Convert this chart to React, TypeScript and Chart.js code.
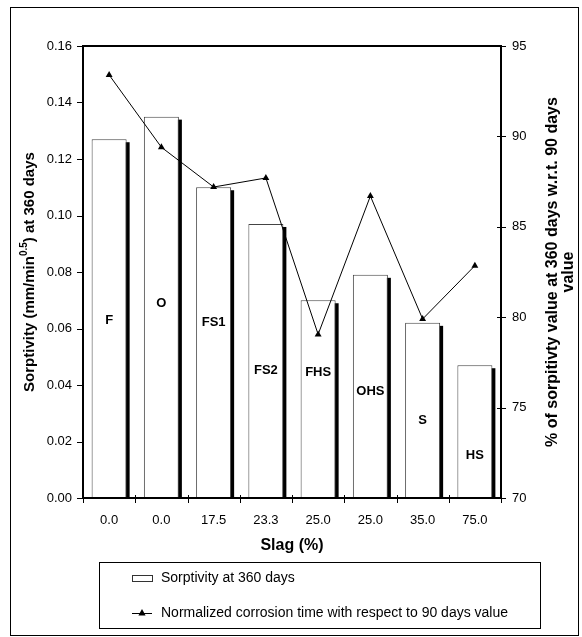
import React, { useEffect, useRef } from "react";
import { Chart, registerables } from "chart.js";

Chart.register(...registerables);

// ---- data ----
const slagCategories = ["0.0", "0.0", "17.5", "23.3", "25.0", "25.0", "35.0", "75.0"];
const mixNames = ["F", "O", "FS1", "FS2", "FHS", "OHS", "S", "HS"];
const sorptivity360 = [0.127, 0.135, 0.11, 0.097, 0.07, 0.079, 0.062, 0.047];
const normalizedPercent = [93.4, 89.4, 87.2, 87.7, 79.05, 86.7, 79.9, 82.85];
// heights (in sorptivity units) at which the mix names are written
const mixNameHeights = [0.0627, 0.069, 0.0623, 0.045, 0.0446, 0.0379, 0.0273, 0.0149];
const leftTickValues = [0, 0.02, 0.04, 0.06, 0.08, 0.1, 0.12, 0.14, 0.16];
const rightTickValues = [70, 75, 80, 85, 90, 95];

const barLegend = "Sorptivity at 360 days";
const lineLegend = "Normalized corrosion time with respect to 90 days value";
const xTitle = "Slag (%)";
const rightTitle1 = "% of sorpitivty value at 360 days w.r.t. 90 days";
const rightTitle2 = "value";

const FONT = "'Liberation Sans', Arial, Helvetica, sans-serif";
const W = 582;
const H = 637;

function drawTriangle(ctx: CanvasRenderingContext2D, x: number, y: number, r: number) {
  ctx.beginPath();
  ctx.moveTo(x, y - r);
  ctx.lineTo(x + r * 0.9, y + r * 0.6);
  ctx.lineTo(x - r * 0.9, y + r * 0.6);
  ctx.closePath();
  ctx.fill();
}

const decorPlugin = {
  id: "decor",
  beforeDatasetsDraw(chart: any) {
    const ctx = chart.ctx as CanvasRenderingContext2D;
    const meta = chart.getDatasetMeta(0);
    ctx.save();
    ctx.fillStyle = "#000";
    meta.data.forEach((bar: any) => {
      const p = bar.getProps(["x", "y", "base", "width"], true);
      const left = p.x - p.width / 2 + 3;
      ctx.fillRect(left, p.y + 3, p.width, p.base - p.y - 3);
    });
    ctx.restore();
  },
  afterDatasetsDraw(chart: any) {
    const ctx = chart.ctx as CanvasRenderingContext2D;
    const { left, right, top, bottom } = chart.chartArea;
    const xs = chart.scales.x;
    const ys = chart.scales.y;
    const y1 = chart.scales.y1;
    ctx.save();
    // mix names
    ctx.fillStyle = "#000";
    ctx.font = `bold 13px ${FONT}`;
    ctx.textAlign = "center";
    ctx.textBaseline = "middle";
    mixNames.forEach((n, i) => {
      ctx.fillText(n, xs.getPixelForValue(i), ys.getPixelForValue(mixNameHeights[i]));
    });
    // frame
    ctx.strokeStyle = "#000";
    ctx.lineWidth = 2;
    ctx.strokeRect(left, top, right - left, bottom - top);
    ctx.lineWidth = 1;
    ctx.beginPath();
    leftTickValues.forEach((v) => {
      const y = Math.round(ys.getPixelForValue(v)) + 0.5;
      ctx.moveTo(left - 6, y);
      ctx.lineTo(left, y);
    });
    rightTickValues.forEach((v) => {
      const y = Math.round(y1.getPixelForValue(v)) + 0.5;
      ctx.moveTo(right - 4, y);
      ctx.lineTo(right + 5, y);
    });
    for (let i = 0; i <= slagCategories.length; i++) {
      const x = Math.round(xs.getPixelForValue(i - 0.5)) + 0.5;
      ctx.moveTo(x, bottom - 3);
      ctx.lineTo(x, bottom + 5);
    }
    ctx.stroke();
    ctx.restore();
  },
  afterDraw(chart: any) {
    const ctx = chart.ctx as CanvasRenderingContext2D;
    const { top, bottom, left, right } = chart.chartArea;
    const midY = (top + bottom) / 2;
    ctx.save();
    ctx.fillStyle = "#000";
    ctx.strokeStyle = "#000";

    // left title with superscript
    ctx.save();
    ctx.translate(30, midY);
    ctx.rotate(-Math.PI / 2);
    ctx.textBaseline = "middle";
    ctx.textAlign = "left";
    const bigFont = `bold 15px ${FONT}`;
    const supFont = `bold 10px ${FONT}`;
    const p1 = "Sorptivity (mm/min";
    const sup = "0.5";
    const p2 = ") at 360 days";
    ctx.font = bigFont;
    const w1 = ctx.measureText(p1).width;
    const w3 = ctx.measureText(p2).width;
    ctx.font = supFont;
    const w2 = ctx.measureText(sup).width;
    let x = -(w1 + w2 + w3) / 2;
    ctx.font = bigFont;
    ctx.fillText(p1, x, 0);
    x += w1;
    ctx.font = supFont;
    ctx.fillText(sup, x, -6);
    x += w2;
    ctx.font = bigFont;
    ctx.fillText(p2, x, 0);
    ctx.restore();

    // right title
    ctx.save();
    ctx.font = `bold 16px ${FONT}`;
    ctx.textAlign = "center";
    ctx.textBaseline = "middle";
    ctx.translate(553, midY);
    ctx.rotate(-Math.PI / 2);
    ctx.fillText(rightTitle1, 0, 0);
    ctx.fillText(rightTitle2, 0, 16);
    ctx.restore();

    // x title
    ctx.font = `bold 16px ${FONT}`;
    ctx.textAlign = "center";
    ctx.textBaseline = "middle";
    ctx.fillText(xTitle, (left + right) / 2, 546);

    // legend box
    ctx.lineWidth = 1;
    ctx.strokeRect(99.5, 562.5, 441, 66);
    ctx.strokeStyle = "#333";
    ctx.strokeRect(132.5, 575.5, 20, 6);
    ctx.strokeStyle = "#000";
    ctx.beginPath();
    ctx.moveTo(132, 613.5);
    ctx.lineTo(152, 613.5);
    ctx.stroke();
    drawTriangle(ctx, 142, 613, 4);
    ctx.font = `14px ${FONT}`;
    ctx.textAlign = "left";
    ctx.textBaseline = "middle";
    ctx.fillText(barLegend, 161, 578.5);
    ctx.fillText(lineLegend, 161, 613.5);

    // outer frame
    ctx.strokeRect(10.5, 7.5, 568, 628);
    ctx.restore();
  },
};

export default function App() {
  const canvasRef = useRef<HTMLCanvasElement | null>(null);

  useEffect(() => {
    document.body.style.margin = "0";
    const canvas = canvasRef.current;
    if (!canvas) return;
    const chart = new Chart(canvas, {
      type: "bar",
      data: {
        labels: slagCategories,
        datasets: [
          {
            type: "bar",
            label: barLegend,
            data: sorptivity360,
            backgroundColor: "#fff",
            borderColor: "#444",
            borderWidth: 1,
            borderSkipped: "bottom",
            barPercentage: 0.67,
            categoryPercentage: 1,
            yAxisID: "y",
            order: 2,
          } as any,
          {
            type: "line",
            label: lineLegend,
            data: normalizedPercent,
            borderColor: "#000",
            borderWidth: 1,
            pointStyle: "triangle",
            pointRadius: 4,
            pointBackgroundColor: "#000",
            pointBorderColor: "#000",
            pointBorderWidth: 0,
            tension: 0,
            fill: false,
            yAxisID: "y1",
            order: 1,
          } as any,
        ],
      },
      options: {
        responsive: false,
        animation: false,
        devicePixelRatio: 1,
        layout: { padding: { top: 46, left: 0, right: 0, bottom: 0 } },
        plugins: {
          legend: { display: false },
          tooltip: { enabled: false },
          title: { display: false },
        },
        scales: {
          x: {
            type: "category",
            offset: true,
            grid: { display: false, drawTicks: false },
            border: { display: false },
            ticks: {
              color: "#000",
              font: { family: FONT, size: 13 },
              padding: 15,
              maxRotation: 0,
              autoSkip: false,
            },
            afterFit: (s: any) => {
              s.height = H - 498;
            },
          },
          y: {
            position: "left",
            min: 0,
            max: 0.16,
            grid: { display: false, drawTicks: false },
            border: { display: false },
            afterBuildTicks: (s: any) => {
              s.ticks = leftTickValues.map((v) => ({ value: v }));
            },
            ticks: {
              color: "#000",
              font: { family: FONT, size: 13 },
              padding: 11,
              callback: (v: any) => Number(v).toFixed(2),
            },
            afterFit: (s: any) => {
              s.width = 83;
            },
          },
          y1: {
            position: "right",
            min: 70,
            max: 95,
            grid: { display: false, drawTicks: false },
            border: { display: false },
            afterBuildTicks: (s: any) => {
              s.ticks = rightTickValues.map((v) => ({ value: v }));
            },
            ticks: {
              color: "#000",
              font: { family: FONT, size: 13 },
              padding: 11,
              callback: (v: any) => String(v),
            },
            afterFit: (s: any) => {
              s.width = W - 501;
            },
          },
        },
      } as any,
      plugins: [decorPlugin],
    });
    return () => chart.destroy();
  }, []);

  return (
    <div style={{ width: W, height: H, background: "#fff" }}>
      <canvas ref={canvasRef} width={W} height={H} style={{ display: "block" }} />
    </div>
  );
}
